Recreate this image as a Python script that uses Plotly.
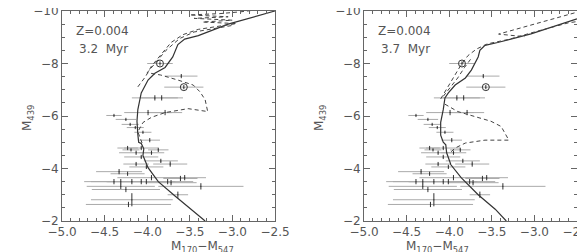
import plotly.graph_objects as go

# observed stars (same in both panels)
star_x = [-3.85, -3.60, -3.57, -3.91, -3.83, -4.39, -3.99, -3.79, -4.25, -4.20,
          -4.14, -4.05, -3.97, -4.23, -4.07, -4.19, -3.87, -4.13, -3.95, -4.07,
          -3.84, -3.73, -4.13, -4.01, -4.33, -4.23, -3.95, -3.56, -3.61, -4.39,
          -4.31, -4.18, -4.07, -4.01, -3.76, -3.72, -3.37, -4.31, -4.25, -3.64,
          -4.18, -4.22]
star_y = [-8.00, -7.52, -7.10, -6.69, -6.69, -6.02, -6.13, -6.13, -5.87, -5.68,
          -5.56, -5.38, -5.08, -4.78, -4.78, -4.71, -4.71, -4.60, -4.60, -4.44,
          -4.29, -4.17, -4.17, -4.06, -3.88, -3.80, -3.65, -3.65, -3.62, -3.50,
          -3.50, -3.50, -3.50, -3.50, -3.50, -3.46, -3.32, -3.32, -3.20, -3.00,
          -2.81, -2.63]
star_xerr = [0.15, 0.19, 0.23, 0.27, 0.25, 0.09, 0.28, 0.20, 0.12, 0.10,
             0.10, 0.10, 0.12, 0.12, 0.20, 0.10, 0.12, 0.20, 0.15, 0.20,
             0.20, 0.20, 0.15, 0.20, 0.27, 0.20, 0.40, 0.25, 0.20, 0.35,
             0.35, 0.30, 0.40, 0.30, 0.30, 0.30, 0.50, 0.40, 0.40, 0.12,
             0.48, 0.50]
star_yerr = [0.08, 0.08, 0.08, 0.10, 0.10, 0.06, 0.10, 0.10, 0.06, 0.06,
             0.06, 0.06, 0.08, 0.08, 0.08, 0.06, 0.08, 0.08, 0.08, 0.08,
             0.08, 0.10, 0.08, 0.08, 0.10, 0.08, 0.10, 0.10, 0.10, 0.10,
             0.10, 0.10, 0.10, 0.10, 0.10, 0.10, 0.12, 0.10, 0.10, 0.12,
             0.25, 0.10]

# circled stars
circ_x = [-3.85, -3.57]
circ_y = [-8.00, -7.10]

# 3.2 Myr isochrone
iso1_x = [-3.32, -3.49, -3.67, -3.87, -3.99, -4.05, -4.04, -4.07, -4.10, -4.11,
          -4.12, -4.11, -4.07, -3.99, -3.91, -3.79, -3.70, -3.64, -3.56, -3.40,
          -3.05, -2.50]
iso1_y = [-2.00, -2.45, -2.94, -3.50, -4.03, -4.50, -4.75, -4.95, -5.00, -5.30,
          -5.80, -6.24, -6.88, -7.37, -7.63, -7.85, -8.25, -8.72, -8.93, -9.06,
          -9.50, -10.00]
iso1_da_x = [-4.06, -4.11, -4.05, -3.95, -3.79, -3.52, -3.29, -3.32, -3.38, -3.46,
             -3.64, -3.84, -4.00, -3.92, -3.78, -3.62, -3.45, -3.00]
iso1_da_y = [-4.97, -5.40, -5.75, -5.95, -6.13, -6.28, -6.17, -6.62, -6.92, -7.18,
             -7.37, -7.56, -7.65, -7.95, -8.50, -8.95, -9.20, -9.45]
iso1_db_x = [-4.11, -4.02, -3.95, -3.85, -3.72, -3.58, -3.40, -3.10, -2.95, -3.35,
             -3.00, -3.45, -3.05, -3.50, -3.15, -2.90, -2.70]
iso1_db_y = [-7.11, -7.50, -7.90, -8.30, -8.80, -9.10, -9.30, -9.45, -9.52, -9.58,
             -9.65, -9.72, -9.78, -9.85, -9.90, -9.97, -10.05]

# 3.7 Myr isochrone
iso2_x = [-3.33, -3.46, -3.66, -3.86, -3.98, -4.03, -4.04, -4.07, -4.10, -4.10,
          -4.07, -4.05, -4.01, -3.93, -3.81, -3.74, -3.66, -3.64, -3.58, -3.43,
          -3.04, -2.50]
iso2_y = [-2.00, -2.45, -3.00, -3.65, -4.14, -4.60, -4.90, -5.00, -5.27, -5.76,
          -6.24, -6.69, -6.88, -7.18, -7.45, -7.75, -8.25, -8.50, -8.69, -8.80,
          -9.13, -9.70]
iso2_da_x = [-4.10, -4.02, -3.95, -3.87, -3.78, -3.68, -3.55, -3.30, -3.00, -2.60,
             -2.45]
iso2_da_y = [-6.65, -7.10, -7.50, -7.90, -8.30, -8.55, -8.75, -8.92, -9.20, -9.55,
             -9.62]
iso2_db_x = [-4.07, -4.00, -3.90, -3.82, -3.74]
iso2_db_y = [-6.75, -7.05, -7.45, -7.85, -8.20]
iso2_dc_x = [-4.05, -3.99, -3.90, -3.70, -3.51, -3.39, -3.33, -3.30, -3.58, -3.81,
             -3.93, -3.99]
iso2_dc_y = [-6.45, -6.35, -6.17, -5.98, -5.80, -5.60, -5.27, -5.08, -5.08, -4.97,
             -4.78, -4.60]
iso2_dd_x = [-2.45, -3.00, -3.42, -3.11]
iso2_dd_y = [-10.00, -9.50, -9.12, -9.02]

metal_text = "Z=0.004"
age_text = ["3.2  Myr", "3.7  Myr"]

AX = "#666666"
LN = "#333333"
TXT = "#555555"
FONT = "DejaVu Sans"

# vertical pixel layout: -10 at y=3, -2 at y=213
Y_TOP = 1 - 3 / 252
Y_BOT = 1 - 213 / 252

fig = go.Figure()

panels = [
    ("x", "y", iso1_x, iso1_y, [(iso1_da_x, iso1_da_y), (iso1_db_x, iso1_db_y)]),
    ("x2", "y2", iso2_x, iso2_y, [(iso2_da_x, iso2_da_y), (iso2_db_x, iso2_db_y),
                                  (iso2_dc_x, iso2_dc_y), (iso2_dd_x, iso2_dd_y)]),
]

for xa, ya, sx, sy, dashed in panels:
    # horizontal error bars (light grey)
    fig.add_trace(go.Scatter(
        x=star_x, y=star_y, xaxis=xa, yaxis=ya, mode="markers",
        marker=dict(size=1, color="#999999"),
        error_x=dict(type="data", array=star_xerr, color="#aaaaaa", thickness=1, width=0),
        showlegend=False, hoverinfo="skip"))
    # vertical error bars (dark)
    fig.add_trace(go.Scatter(
        x=star_x, y=star_y, xaxis=xa, yaxis=ya, mode="markers",
        marker=dict(size=1, color="#333333"),
        error_y=dict(type="data", array=star_yerr, color="#333333", thickness=1, width=0),
        showlegend=False, hoverinfo="skip"))
    fig.add_trace(go.Scatter(
        x=circ_x, y=circ_y, xaxis=xa, yaxis=ya, mode="markers",
        marker=dict(size=7, symbol="circle-open", color="#333333", line=dict(width=1)),
        showlegend=False, hoverinfo="skip"))
    fig.add_trace(go.Scatter(
        x=sx, y=sy, xaxis=xa, yaxis=ya, mode="lines",
        line=dict(color=LN, width=1.2),
        showlegend=False, hoverinfo="skip"))
    for dx, dy in dashed:
        fig.add_trace(go.Scatter(
            x=dx, y=dy, xaxis=xa, yaxis=ya, mode="lines",
            line=dict(color="#444444", width=1, dash="4px,3px"),
            showlegend=False, hoverinfo="skip"))

axis_common = dict(
    showline=True, linecolor=AX, linewidth=1, mirror="allticks",
    ticks="inside", ticklen=6, tickcolor=AX, tickwidth=1,
    showgrid=False, zeroline=False, automargin=False,
    ticklabeloverflow="allow",
    tickfont=dict(family=FONT, size=12, color=TXT),
)
xaxis_opts = dict(axis_common, range=[-5.0, -2.5], tickvals=[-5.0, -4.5, -4.0, -3.5, -3.0, -2.5],
                  tickformat=".1f",
                  minor=dict(ticks="inside", ticklen=3, dtick=0.1, tickcolor=AX, showgrid=False))
yaxis_opts = dict(axis_common, range=[-2, -10], tickvals=[-10, -8, -6, -4, -2],
                  minor=dict(ticks="inside", ticklen=3, dtick=0.5, tickcolor=AX, showgrid=False))

fig.update_layout(
    width=585, height=252,
    margin=dict(l=0, r=0, t=0, b=0),
    paper_bgcolor="white", plot_bgcolor="white",
    xaxis=dict(xaxis_opts, domain=[54 / 585, 267 / 585], anchor="y"),
    yaxis=dict(yaxis_opts, domain=[Y_BOT, Y_TOP], anchor="x"),
    xaxis2=dict(xaxis_opts, domain=[356 / 585, 569 / 585], anchor="y2"),
    yaxis2=dict(yaxis_opts, domain=[Y_BOT, Y_TOP], anchor="x2"),
)

for i, (x0, xa) in enumerate([(54, "x"), (356, "x2")]):
    fig.add_annotation(x=(x0 + 12) / 585, y=1 - 23 / 252, xref="paper", yref="paper",
                       text=metal_text, showarrow=False, xanchor="left", yanchor="middle",
                       font=dict(family=FONT, size=12, color=TXT))
    fig.add_annotation(x=(x0 + 15) / 585, y=1 - 41 / 252, xref="paper", yref="paper",
                       text=age_text[i], showarrow=False, xanchor="left", yanchor="middle",
                       font=dict(family=FONT, size=12, color=TXT))

for x0 in [10, 312]:
    fig.add_annotation(x=x0 / 585, y=1 - 110 / 252, xref="paper", yref="paper",
                       text="M<sub>439</sub>", textangle=-90, showarrow=False,
                       font=dict(family=FONT, size=12, color=TXT))
for xc in [160.5, 462.5]:
    fig.add_annotation(x=xc / 585, y=1 - 239 / 252, xref="paper", yref="paper",
                       yanchor="middle",
                       text="M<sub>170</sub>−M<sub>547</sub>", showarrow=False,
                       font=dict(family=FONT, size=12, color=TXT))

fig.write_html("out.html")
